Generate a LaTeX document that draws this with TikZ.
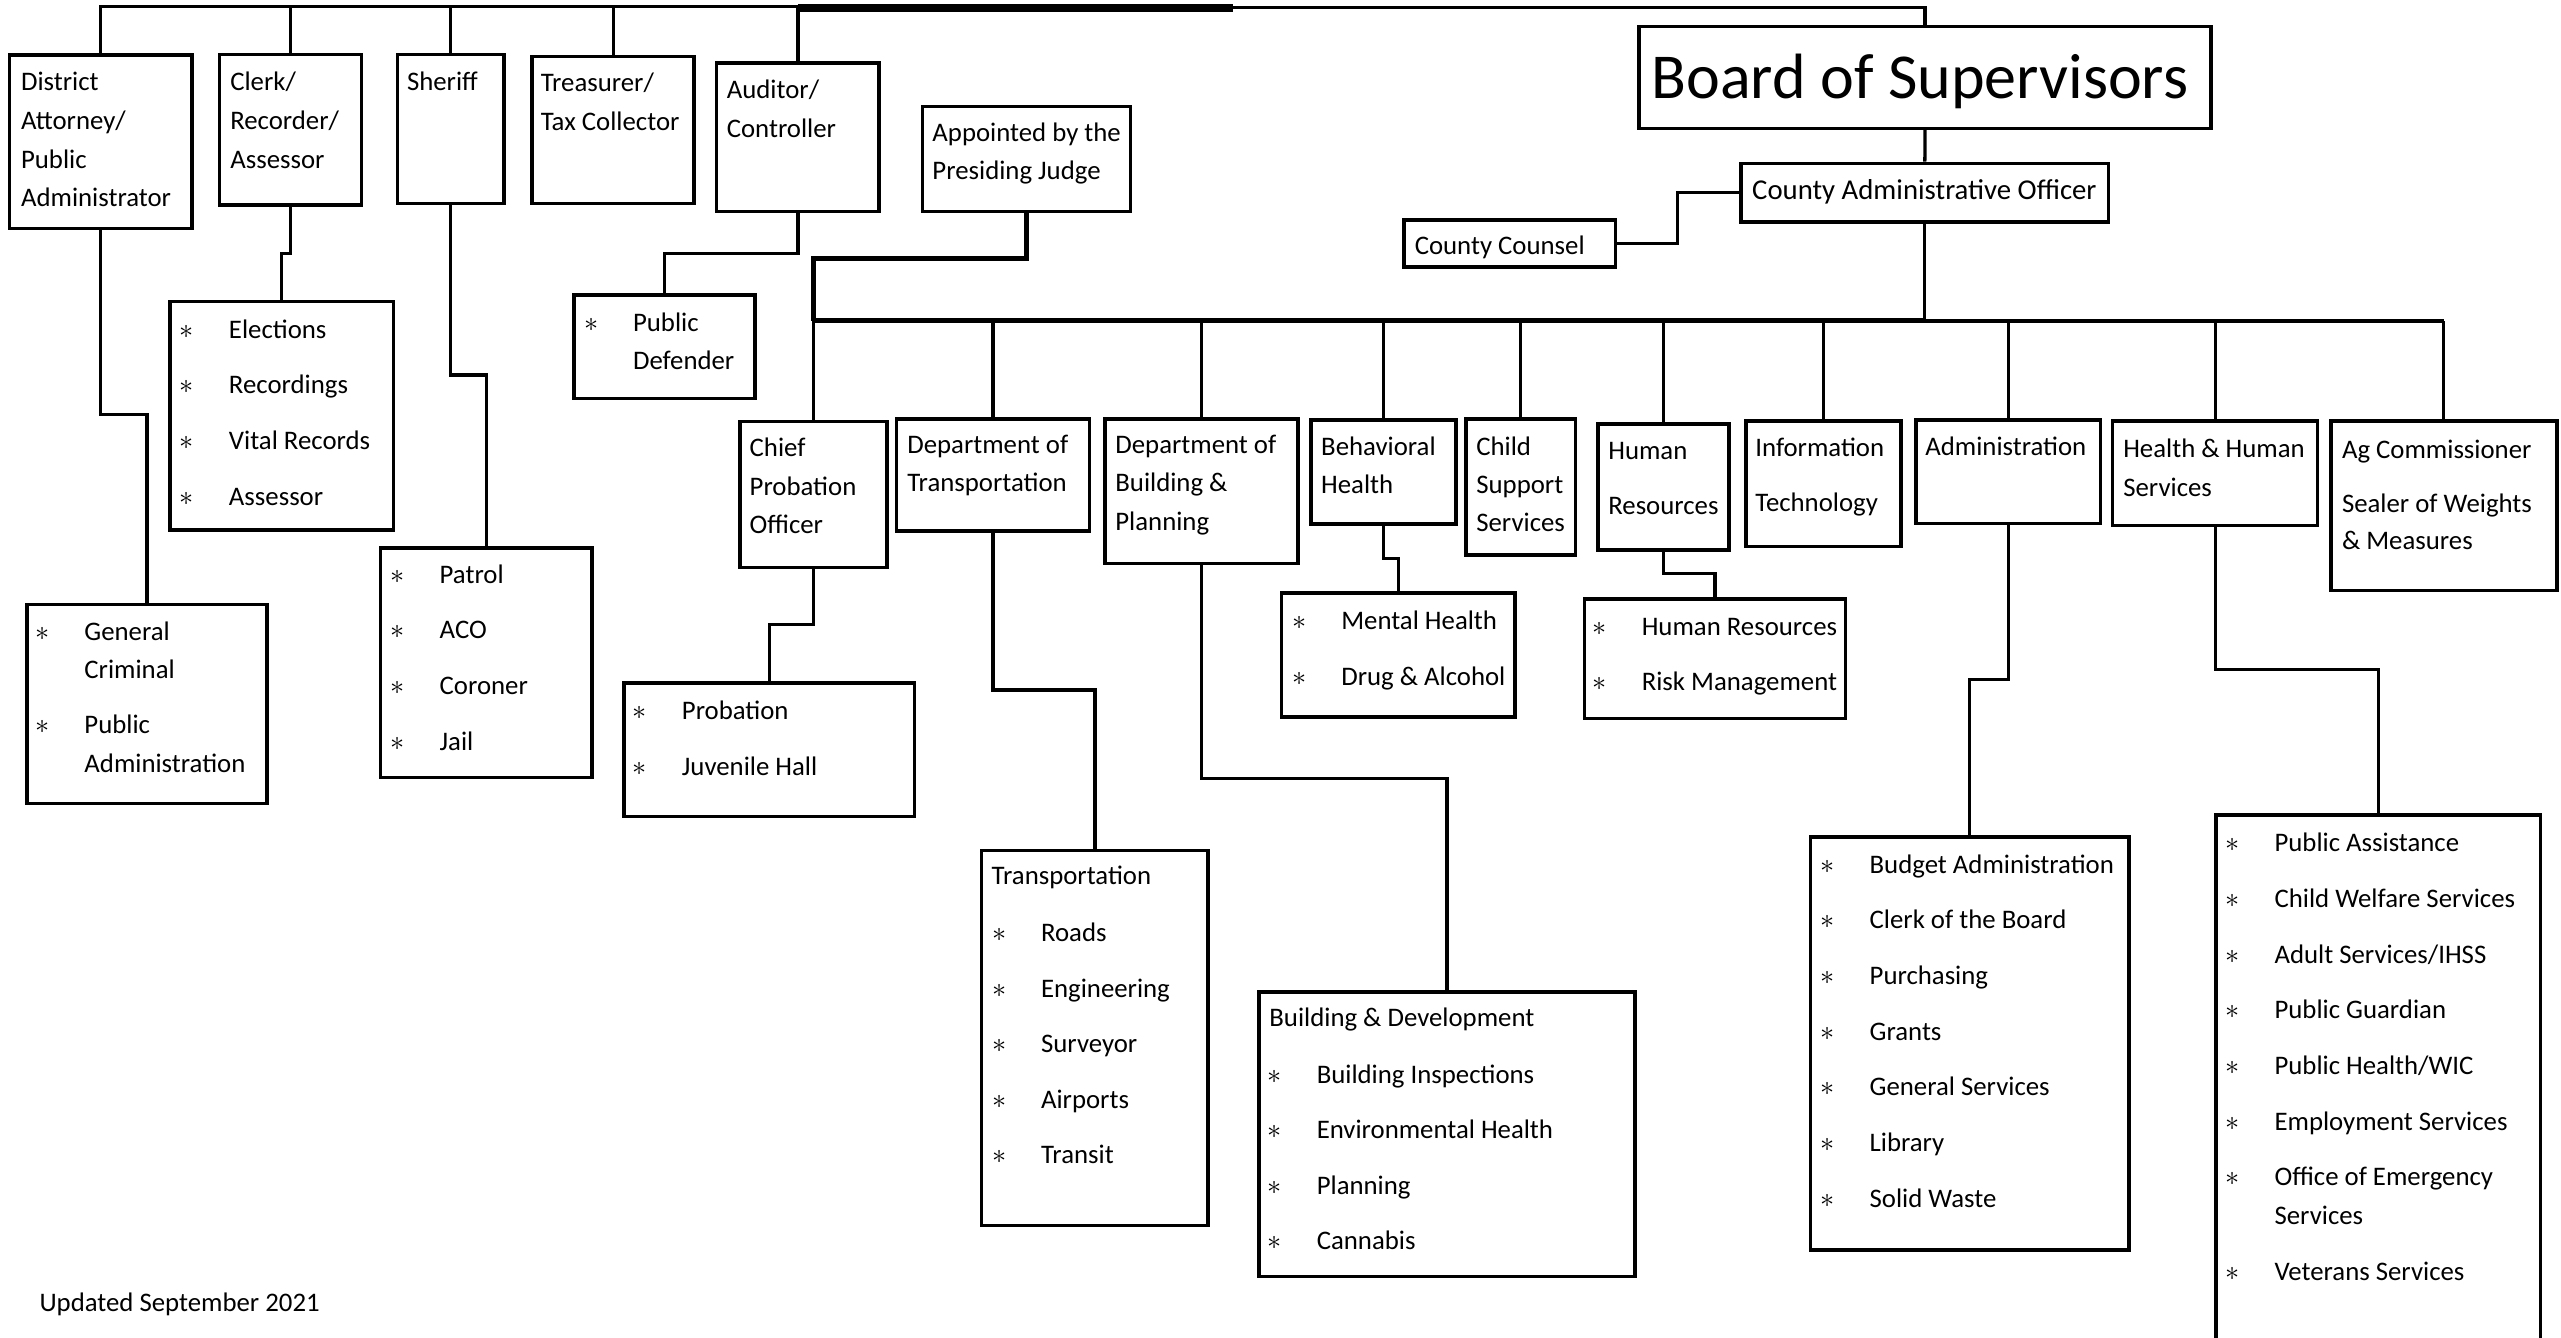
\documentclass[tikz,border=0pt]{standalone}
\usepackage{fontspec}
\setmainfont{Carlito}
\newcommand\bul{$\ast$}
\newcommand\bx[5]{\node[box, minimum width={(#4-#2)*1pt}, minimum height={(#5-#3)*1pt}] (#1) at ({(#2+#4)/2},{(#3+#5)/2}) {};}
\newcommand\ml[5]{\foreach \t [count=\i from 0] in {#5} {\node[txt] (#1-\i) at (#2,{#3+\i*#4}) {\t};}}
\newcommand\bl[5]{\foreach \t [count=\i from 0] in {#5} {\node[txt] (#1-b\i) at ({#2-30},{#3+\i*#4}) {\bul};\node[txt] (#1-\i) at (#2,{#3+\i*#4}) {\t};}}
\begin{document}
\begin{tikzpicture}[x=1pt,y=-1pt,
  box/.style={draw, line width=2.2pt, rectangle, inner sep=0pt},
  conn/.style={line width=2pt},
  heavy/.style={line width=3pt},
  txt/.style={anchor=base west, inner sep=0pt, font=\fontsize{16.4}{24}\selectfont}]
\useasboundingbox (0,0) rectangle (1568,819);
\clip (0,0) rectangle (1568,819);
\fill[white] (0,0) rectangle (1568,819);
% ---------- boxes ----------
\bx{da}{5.7}{33.7}{117.4}{139.8}
\bx{clerk}{134.3}{33.3}{221.4}{125.5}
\bx{sheriff}{243.4}{33.3}{308.4}{124.5}
\bx{treas}{325.8}{34.7}{425}{124.5}
\bx{aud}{438.8}{38.4}{538.2}{129.6}
\bx{appt}{564.7}{65.3}{692.2}{129.6}
\bx{board}{1003.5}{16.3}{1353.7}{78.6}
\bx{cao}{1066}{100}{1291}{136}
\bx{cc}{859.5}{134.7}{989}{163.4}
\bx{gc}{16.5}{370}{163.5}{492}
\bx{elec}{104}{184.7}{241}{324.5}
\bx{patrol}{233}{335.5}{362.5}{476}
\bx{pd}{351.4}{180.6}{462.3}{243.9}
\bx{cpo}{453}{258}{543}{347.5}
\bx{prob}{382}{418}{560}{500}
\bx{dot}{549}{256.5}{667}{325}
\bx{trans}{601}{520.8}{739.7}{750.4}
\bx{dbp}{676.7}{256.5}{794.7}{345}
\bx{bd}{771}{607.5}{1001}{781.6}
\bx{bh}{802.6}{257}{891.5}{321}
\bx{mh}{784.7}{363}{927.6}{439}
\bx{cs}{897.6}{256.7}{964.6}{339.8}
\bx{hr}{978.5}{259.6}{1058.6}{336.7}
\bx{hrl}{970}{366.7}{1130}{440}
\bx{it}{1069}{257.6}{1164}{334.7}
\bx{adm}{1173}{257}{1286}{320.5}
\bx{adml}{1108.6}{512.3}{1303.5}{765.3}
\bx{hhs}{1293.5}{257.6}{1419}{321.8}
\bx{hhsl}{1356.8}{499}{1555.5}{840}
\bx{ag}{1427}{257.6}{1565.5}{361.6}
% ---------- top connectors ----------
\coordinate (tj) at (755,3.8);
\coordinate (tj2) at (755,4.8);
\draw[conn] (da.north) |- (tj);
\foreach \n in {clerk,sheriff,treas,aud} {\draw[conn] (\n.north) -- (\n.north |- tj);}
\draw[conn] (board.north) |- (tj2) -- (tj);
\draw[line width=4.5pt] (aud.north |- tj2) -- (tj2);
\draw[conn] (board.south) -- (cao.north);
\draw[conn] (cc.east) -| (cao.west -| 1027,0) -- (cao.west);
% ---------- lower connectors of the elected offices ----------
\draw[conn] (da.south) -- (da.south |- 0,254) -| (gc.north);
\draw[conn] (clerk.south) -- (clerk.south |- 0,155) -| (elec.north);
\draw[conn] (sheriff.south) -- (sheriff.south |- 0,229.6) -| (patrol.north);
\draw[conn] (aud.south) -- (aud.south |- 0,155) -| (pd.north);
% ---------- bus ----------
\coordinate (busL) at (cpo.north |- 0,196.5);
\coordinate (busM) at (cao.south |- 0,196.5);
\draw[heavy] (appt.south) -- (appt.south |- 0,158) -| (busL);
\draw[heavy] (busL) -- (busM);
\draw[conn] (busM) -- (ag.north |- busL);
\draw[conn] (cao.south) -- (busM);
\foreach \n in {cpo,dot,dbp,bh,cs,hr,it,adm,hhs,ag} {\draw[conn] (\n.north) -- (\n.north |- busL);}
\draw[conn] (cpo.south) -- (cpo.south |- 0,382.5) -| (prob.north);
\draw[conn] (dot.south) -- (dot.south |- 0,422.5) -| (trans.north);
\draw[conn] (dbp.south) -- (dbp.south |- 0,476.5) -| (bd.north);
\draw[conn] (bh.south) -- (bh.south |- 0,341.8) -| (mh.north);
\draw[conn] (hr.south) -- (hr.south |- 0,351) -| (hrl.north);
\draw[conn] (adm.south) -- (adm.south |- 0,416) -| (adml.north);
\draw[conn] (hhs.south) -- (hhs.south |- 0,410) -| (hhsl.north);
% ---------- texts ----------
\ml{tda}{12.7}{55.5}{23.7}{District,Attorney/,Public,Administrator}
\ml{tclerk}{140.8}{55.5}{23.7}{Clerk/,Recorder/,Assessor}
\ml{tsher}{249}{55.5}{23.7}{Sheriff}
\ml{ttreas}{330.9}{56}{23.7}{Treasurer/,Tax Collector}
\ml{taud}{444.8}{60.6}{23.7}{Auditor/,Controller}
\ml{tappt}{570.7}{86.7}{23.5}{Appointed by the,Presiding Judge}
\node[txt, font=\fontsize{39.2}{46}\selectfont] (tboard) at (1011,60.6) {Board of Supervisors};
\node[txt, font=\fontsize{17.6}{24}\selectfont] (tcao) at (1072.6,122.4) {County Administrative Officer};
\ml{tcc}{866}{156}{23.7}{County Counsel}
\ml{tcpo}{458.8}{279.6}{23.5}{Chief,Probation,Officer}
\ml{tdot}{555.3}{277.6}{23.5}{Department of,Transportation}
\ml{tdbp}{682.7}{277.6}{23.5}{Department of,Building \&,Planning}
\ml{tbh}{808.7}{278.6}{23.8}{Behavioral,Health}
\ml{tcs}{903.7}{278.6}{23.5}{Child,Support,Services}
\ml{thr}{984.5}{281.6}{33.7}{Human,Resources}
\ml{tit}{1074.5}{279.6}{33.7}{Information,Technology}
\ml{tadm}{1178.6}{278.6}{23.7}{Administration}
\ml{thhs}{1299.8}{280.3}{23.7}{Health \& Human,Services}
\ml{tag}{1433.7}{280.6}{33}{Ag Commissioner,Sealer of Weights}
\node[txt] (tag-2) at (1433.7,336.7) {\& Measures};
% lists
\bl{tpd}{387.4}{203}{23.5}{Public}
\node[txt] (tpd-1) at (387.4,226.5) {Defender};
\bl{telec}{140}{207}{34.2}{Elections,Recordings,Vital Records,Assessor}
\bl{tpat}{269}{357}{34.1}{Patrol,ACO,Coroner,Jail}
\bl{tgc}{51.5}{392}{57}{General,Public}
\node[txt] (tgc-c) at (51.5,415.5) {Criminal};
\node[txt] (tgc-a) at (51.5,473) {Administration};
\bl{tprob}{417.3}{440.8}{33.7}{Probation,Juvenile Hall}
\node[txt] (ttrh) at (607,541.8) {Transportation};
\bl{ttr}{637.2}{576.5}{34}{Roads,Engineering,Surveyor,Airports,Transit}
\node[txt] (tbdh) at (777,628.6) {Building \& Development};
\bl{tbd}{806}{663.3}{34}{Building Inspections,Environmental Health,Planning,Cannabis}
\bl{tmh}{821}{385.7}{33.7}{Mental Health,Drug \& Alcohol}
\bl{thrl}{1005}{388.8}{33.7}{Human Resources,Risk Management}
\bl{tadml}{1144.5}{534.7}{34.05}{Budget Administration,Clerk of the Board,Purchasing,Grants,General Services,Library,Solid Waste}
\bl{thhsl}{1392.4}{521.4}{34.1}{Public Assistance,Child Welfare Services,Adult Services/IHSS,Public Guardian,Public Health/WIC,Employment Services,Office of Emergency}
\node[txt] (thhsl-s) at (1392.4,749.8) {Services};
\bl{thhsv}{1392.4}{784}{34}{Veterans Services}
\node[txt] (tupd) at (24,803) {Updated September 2021};
\end{tikzpicture}
\end{document}
